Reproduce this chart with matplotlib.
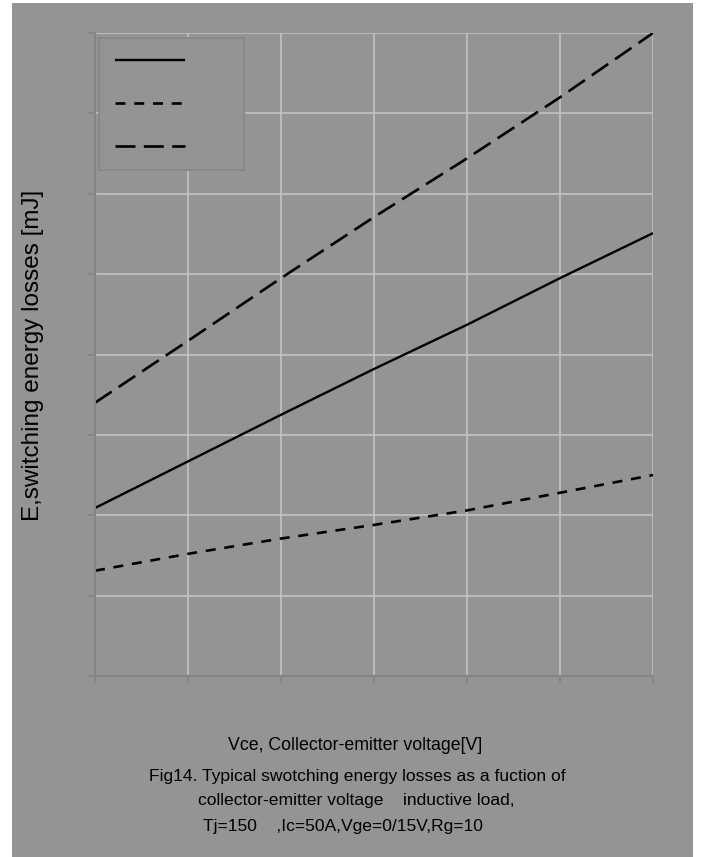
import matplotlib
matplotlib.use("Agg")
import matplotlib.pyplot as plt
from matplotlib.patches import Rectangle

plt.rcParams['font.family'] = ['Liberation Sans', 'DejaVu Sans']
plt.rcParams['lines.scale_dashes'] = False

# Data (axis units are unlabeled)
vce = [0, 100, 200, 300, 400, 500, 600]
e_solid = [2.09, 2.67, 3.25, 3.82, 4.37, 4.95, 5.51]
e_short = [1.31, 1.52, 1.71, 1.88, 2.06, 2.28, 2.50]
e_long = [3.40, 4.17, 4.95, 5.71, 6.44, 7.20, 8.00]
xticks = [0, 100, 200, 300, 400, 500, 600]
yticks = [0, 1, 2, 3, 4, 5, 6, 7, 8]
legend_labels = ['', '', '']

ylabel = "E,switching energy losses [mJ]"
xlabel = "Vce, Collector-emitter voltage[V]"
cap1 = "Fig14. Typical swotching energy losses as a fuction of"
cap2 = "collector-emitter voltage    inductive load,"
cap3 = "Tj=150    ,Ic=50A,Vge=0/15V,Rg=10"

BG = '#949494'
GRID = '#c2c2c2'
AX = '#848484'

W, H = 702, 857
fig = plt.figure(figsize=(W / 100, H / 100), dpi=100, facecolor='white')
fig.patches.append(Rectangle((12 / W, 0), (693 - 12) / W, (854) / H,
                             transform=fig.transFigure, facecolor=BG,
                             edgecolor='none', zorder=-10))

ax = fig.add_axes([95 / W, (H - 676) / H, 558 / W, 643 / H])
ax.set_zorder(1)
ax.set_facecolor(BG)

l1, = ax.plot(vce, e_solid, color='black', lw=1.7, solid_capstyle='butt')
l2, = ax.plot(vce, e_short, color='black', lw=1.9, dashes=(7.2, 6.3))
l3, = ax.plot(vce, e_long, color='black', lw=1.9, dashes=(14.4, 6.0))

ax.set_xlim(xticks[0], xticks[-1])
ax.set_ylim(yticks[0], yticks[-1])
ax.set_xticks(xticks)
ax.set_yticks(yticks)
ax.set_xticklabels([])
ax.set_yticklabels([])
ax.grid(True, color=GRID, lw=1.2)
ax.set_axisbelow(True)
for s in ['top', 'right']:
    ax.spines[s].set_visible(False)
for s in ['left', 'bottom']:
    ax.spines[s].set_color(AX)
    ax.spines[s].set_linewidth(1.5)
    ax.spines[s].set_zorder(2.5)
ax.tick_params(axis='both', direction='out', length=5, width=1.2, color=AX)

leg = ax.legend([l1, l2, l3], legend_labels, loc='upper left',
                bbox_to_anchor=(4 / 558, (676 - 38) / 643), borderaxespad=0,
                fontsize=10, handlelength=5.05, handletextpad=3.1,
                borderpad=1.15, labelspacing=2.1, fancybox=False,
                framealpha=1, facecolor=BG, edgecolor='#868686')
leg.get_frame().set_linewidth(1.2)

fig.text(33 / W, (H - 355) / H, ylabel, rotation=90, ha='center', va='center',
         fontsize=17.5, color='black')
fig.text(355 / W, (H - 745) / H, xlabel, ha='center', va='center',
         fontsize=12.8, color='black')
fig.text(357 / W, (H - 777) / H, cap1, ha='center', va='center',
         fontsize=12.6, color='black')
fig.text(356 / W, (H - 801) / H, cap2, ha='center', va='center',
         fontsize=12.6, color='black')
fig.text(343 / W, (H - 826) / H, cap3, ha='center', va='center',
         fontsize=12.6, color='black')

fig.savefig('out.png', dpi=100, facecolor='white')
